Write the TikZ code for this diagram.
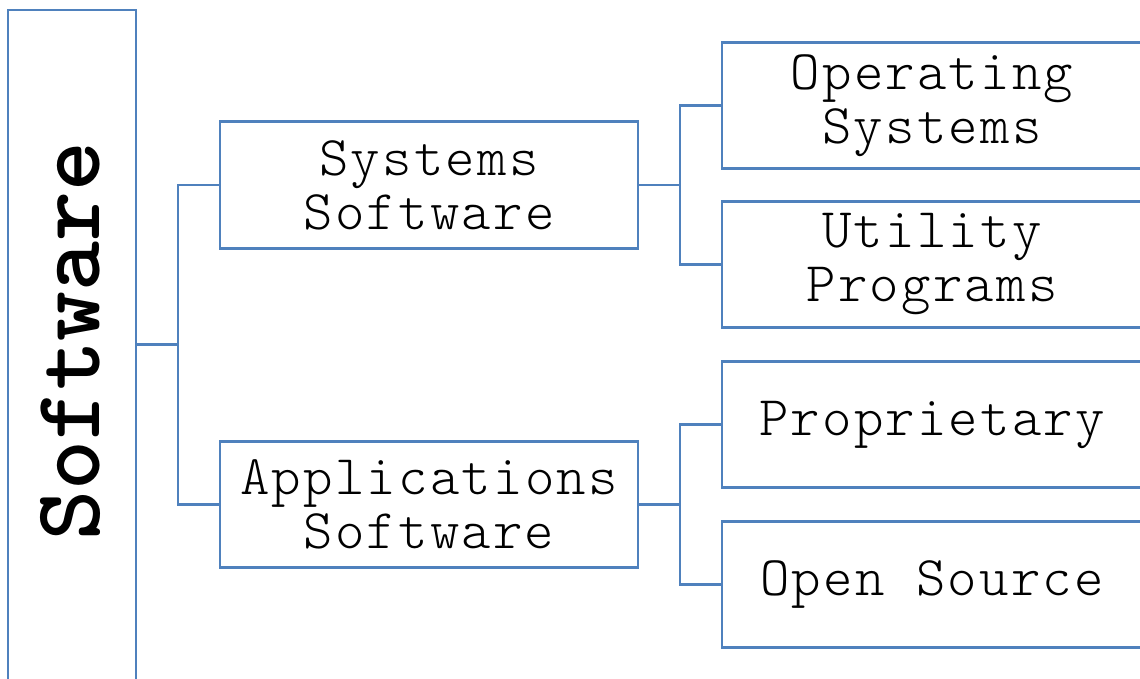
\documentclass[tikz,border=0pt]{standalone}
\usepackage{fontspec}
\setmonofont{Latin Modern Mono Light}
\newfontfamily\boxfont[LetterSpace=4]{Latin Modern Mono Light}
\begin{document}
\begin{tikzpicture}[x=1pt,y=-1pt,
  bl/.style={draw=boxblue,line width=2.8pt},
  box/.style={bl,rectangle,inner sep=0pt,minimum width=418pt,minimum height=126.5pt,
    align=center,font=\fontsize{56}{54}\selectfont\boxfont},
  rbox/.style={box,minimum width=420pt},
  conn/.style={draw=boxblue,line width=2.8pt}]
\definecolor{boxblue}{RGB}{79,129,189}
\useasboundingbox (0,0) rectangle (1140,678);
\clip (0,0) rectangle (1140,678);
\fill[white] (0,0) rectangle (1140,678);
\node[bl,rectangle,inner sep=0pt,minimum width=128pt,minimum height=690pt] (sw) at (72,355) {};
\node[rotate=90,inner sep=0pt,font=\fontsize{95}{97}\selectfont\ttfamily\bfseries] (swt) at (70,341) {Software};
\node[box] (sys) at (429,185) {Systems\\Software};
\node[box] (app) at (429,504.5) {Applications\\Software};
\node[rbox] (os) at (932,105.5) {Operating\\Systems};
\node[rbox] (ut) at (932,264.5) {Utility\\Programs};
\node[rbox] (pr) at (932,424.5) {Proprietary};
\node[rbox] (osrc) at (932,584.5) {Open Source};
\coordinate (j1) at (178,344.75);
\coordinate (j2) at (680,185);
\coordinate (j3) at (680,504.5);
\draw[conn] (sw.east |- j1) -- (j1);
\draw[conn] (sys.west) -| (j1) |- (app.west);
\draw[conn] (sys.east) -- (j2);
\draw[conn] (os.west) -| (j2) |- (ut.west);
\draw[conn] (app.east) -- (j3);
\draw[conn] (pr.west) -| (j3) |- (osrc.west);
\end{tikzpicture}
\end{document}
